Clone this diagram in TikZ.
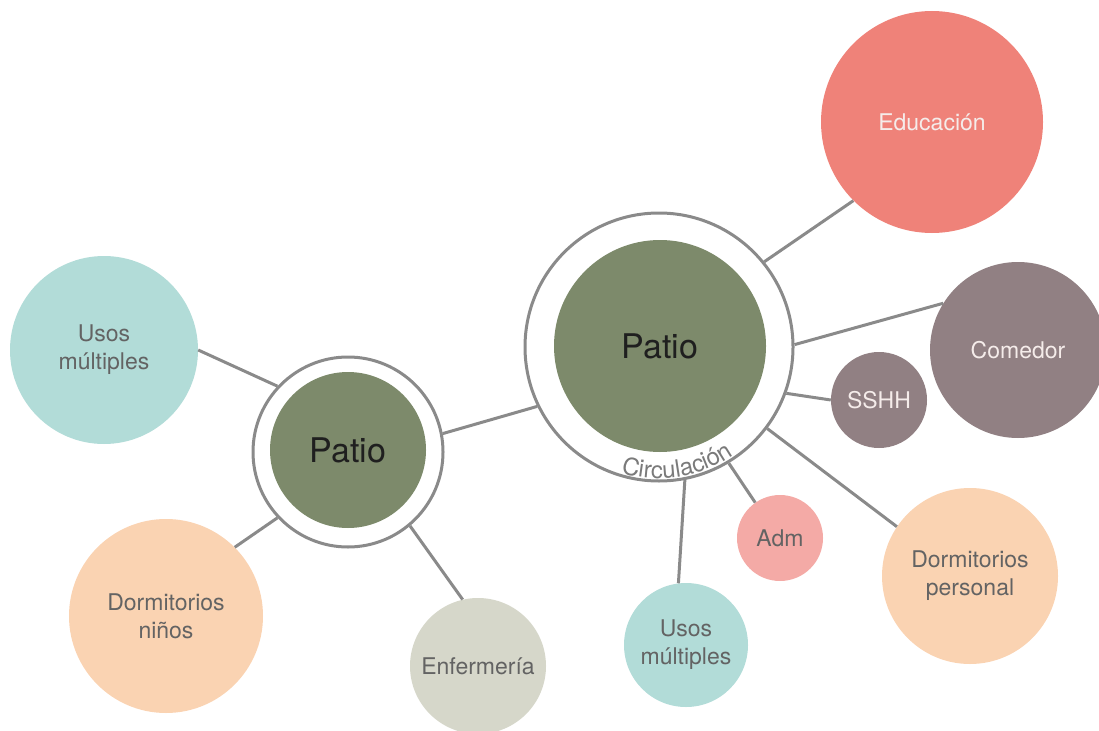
\documentclass[tikz,border=0pt]{standalone}
\usepackage{fontspec}
\setmainfont{TeX Gyre Heros}
\usetikzlibrary{decorations.text}
\definecolor{patiog}{HTML}{7D8A6B}
\definecolor{linegray}{HTML}{8A8A8A}
\definecolor{labgray}{HTML}{636363}
\definecolor{labwhite}{HTML}{F5ECEA}
\definecolor{educ}{HTML}{EF8279}
\definecolor{come}{HTML}{918083}
\definecolor{usos}{HTML}{B2DCD8}
\definecolor{dorm}{HTML}{FAD3B2}
\definecolor{enfe}{HTML}{D6D7CA}
\definecolor{admc}{HTML}{F4AAA6}
\definecolor{circ}{HTML}{7A7A7A}
\begin{document}
\begin{tikzpicture}[x=1pt,y=1pt,
  bubble/.style={circle, inner sep=0pt, align=center, font=\fontsize{23}{28}\selectfont, text=labgray},
  whitebubble/.style={bubble, text=labwhite},
  patio/.style={circle, inner sep=0pt, fill=patiog, font=\fontsize{34}{34}\selectfont, text=black!88},
  ring/.style={circle, inner sep=0pt, draw=linegray, line width=3pt, fill=white},
  link/.style={draw=linegray, line width=3pt}]
\useasboundingbox (0,0) rectangle (1099,-730);

% rings and patios
\node[ring, minimum size=190pt] (r1) at (348,-452) {};
\node[patio, minimum size=156pt] (p1) at (348,-450) {Patio};
\node[ring, minimum size=268pt] (r2) at (659,-347) {};
\node[patio, minimum size=212pt] (p2) at (660,-346) {Patio};

% bubbles
\node[whitebubble, fill=educ, minimum size=222pt] (edu) at (932,-122) {Educación};
\node[whitebubble, fill=come, minimum size=176pt] (com) at (1018,-350) {Comedor};
\node[whitebubble, fill=come, minimum size=96pt] (ssh) at (879,-400) {SSHH};
\node[bubble, fill=usos, minimum size=188pt] (u1) at (104,-350) {Usos\\múltiples};
\node[bubble, fill=dorm, minimum size=194pt] (dn) at (166,-616) {Dormitorios\\niños};
\node[bubble, fill=enfe, minimum size=136pt] (enf) at (478,-666) {Enfermería};
\node[bubble, fill=usos, minimum size=124pt] (u2) at (686,-645) {Usos\\múltiples};
\node[bubble, fill=admc, minimum size=86pt] (adm) at (780,-538) {Adm};
\node[bubble, fill=dorm, minimum size=176pt] (dp) at (970,-576) {Dormitorios\\personal};

% connectors
\draw[link] (u1.0) -- (r1.137);
\draw[link] (dn.45) -- (r1.223);
\draw[link] (enf.103) -- (r1.310);
\draw[link] (r1.11) -- (r2.206);
\draw[link] (r2.39) -- (edu.225);
\draw[link] (r2.1) -- (com.148);
\draw[link] (r2.-20) -- (ssh.180);
\draw[link] (r2.-37) -- (dp.146);
\draw[link] (r2.-59) -- (adm.125);
\draw[link] (r2.-79) -- (u2.97);

% curved label
\path[decorate, decoration={text along path, text align=center,
  text={|\fontsize{24}{24}\selectfont\color{circ}|Circulación}}]
  (r2.center) ++(-114:131.5) arc[start angle=-114, end angle=-48, radius=131.5];
\end{tikzpicture}
\end{document}
